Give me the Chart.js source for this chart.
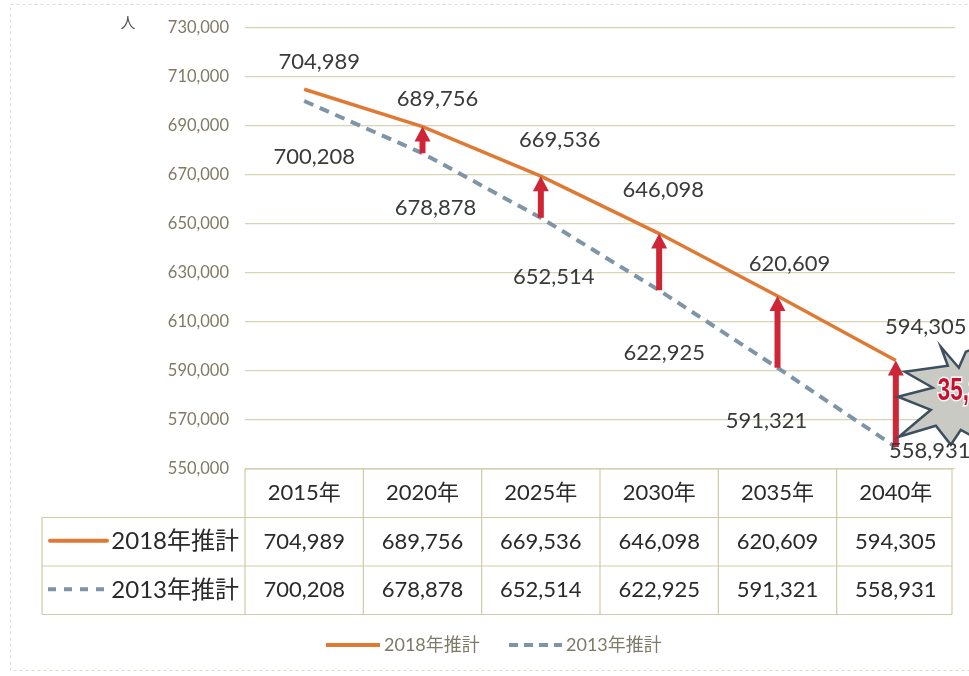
<!DOCTYPE html>
<html><head><meta charset="utf-8">
<script src="https://cdn.jsdelivr.net/npm/chart.js@4.4.1/dist/chart.umd.min.js"></script>
<style>html,body{margin:0;padding:0;background:#fff}#wrap{width:969px;height:676px;position:relative}</style>
</head><body><div id="wrap"><canvas id="c"></canvas></div>
<script>
const categories = ['2015年','2020年','2025年','2030年','2035年','2040年'];
const series2018 = [704989, 689756, 669536, 646098, 620609, 594305];
const series2013 = [700208, 678878, 652514, 622925, 591321, 558931];
const seriesNames = ['2018年推計','2013年推計'];
const yTicks = [550000,570000,590000,610000,630000,650000,670000,690000,710000,730000];
const unitLabel = '人';

const ORANGE = '#df7a34', BLUE = '#7d95a6', RED = '#cf2637', GRID = '#d8d4b4';
const NUMFONT = "Lato, 'Noto Sans CJK JP', sans-serif";
const fmt = v => v.toLocaleString('en-US');

// label offsets relative to points (styling)
const off2018 = [[15,-27],[15,-28],[19,-36],[4,-44],[12,-32],[30,-34]];
const off2013 = [[10,56],[13,55],[13,59],[5,63],[-11,53],[34,4]];
// starburst outline relative to the last category point / gap midpoint (styling)
const burst = [[45,-57],[52,-38],[9,-32],[37,-16],[2,-7],[35,6],[3,33],[40,22],[55,41],[65,26],[90,40],[90,-60],[70,-52],[63,-36]];

const overlay = {
  id:'overlay',
  beforeDraw(chart){
    const ctx = chart.ctx;
    ctx.save();
    ctx.fillStyle='#fff'; ctx.fillRect(0,0,chart.width,chart.height);
    ctx.strokeStyle='#dedccc'; ctx.lineWidth=1; ctx.setLineDash([3,3]);
    ctx.strokeRect(10.5,4.5,975,666);
    ctx.restore();
  },
  afterDatasetsDraw(chart){
    const ctx = chart.ctx, x = chart.scales.x, y = chart.scales.y;
    const ca = chart.chartArea;
    ctx.save();
    // unit
    ctx.fillStyle='#555'; ctx.font="15px 'Noto Sans CJK JP'"; ctx.textAlign='center'; ctx.textBaseline='middle';
    ctx.fillText(unitLabel,128,22);
    // arrows
    for(let i=1;i<categories.length;i++){
      const px = x.getPixelForValue(i);
      const yt = y.getPixelForValue(series2018[i]);
      const yb = y.getPixelForValue(series2013[i]);
      const hh = 15, hw = 8, sw = 3;
      ctx.fillStyle=RED;
      ctx.beginPath();
      ctx.moveTo(px,yt);
      ctx.lineTo(px+hw,yt+hh);
      ctx.lineTo(px+sw,yt+hh);
      ctx.lineTo(px+sw,yb);
      ctx.lineTo(px-sw,yb);
      ctx.lineTo(px-sw,yt+hh);
      ctx.lineTo(px-hw,yt+hh);
      ctx.closePath(); ctx.fill();
    }
    // starburst
    const n = categories.length-1;
    const bx = x.getPixelForValue(n);
    const by = (y.getPixelForValue(series2018[n])+y.getPixelForValue(series2013[n]))/2;
    ctx.beginPath();
    burst.forEach((p,k)=>{ k===0?ctx.moveTo(bx+p[0],by+p[1]):ctx.lineTo(bx+p[0],by+p[1]); });
    ctx.closePath();
    ctx.fillStyle='#cacac4'; ctx.fill();
    ctx.strokeStyle='#3e4f5f'; ctx.lineWidth=2.5; ctx.setLineDash([]); ctx.lineJoin='miter'; ctx.stroke();
    const diff = fmt(series2018[n]-series2013[n]);
    ctx.save();
    ctx.translate(bx+42, by-12);
    ctx.scale(0.72,1);
    ctx.fillStyle='#c8102e'; ctx.font="bold 31px 'Liberation Sans', Arial, sans-serif";
    ctx.textAlign='left'; ctx.textBaseline='middle';
    ctx.strokeStyle='#fff'; ctx.lineWidth=3; ctx.strokeText(diff,0,0);
    ctx.fillText(diff,0,0);
    ctx.restore();
    // data labels
    ctx.font='22px '+NUMFONT; ctx.fillStyle='#3a3a3a'; ctx.textAlign='center'; ctx.textBaseline='middle';
    series2018.forEach((v,i)=>{ ctx.fillText(fmt(v), x.getPixelForValue(i)+off2018[i][0], y.getPixelForValue(v)+off2018[i][1]); });
    series2013.forEach((v,i)=>{ ctx.fillText(fmt(v), x.getPixelForValue(i)+off2013[i][0], y.getPixelForValue(v)+off2013[i][1]); });

    // table
    const colW = x.getPixelForValue(1)-x.getPixelForValue(0);
    const tl = ca.left, tr = ca.right-3;
    const r0 = ca.bottom, rowH = 48.5;
    const r1 = r0+rowH, r2 = r1+rowH, r3 = r2+rowH;
    const legL = 42;
    ctx.strokeStyle='#cfcba8'; ctx.lineWidth=1.2; ctx.setLineDash([]);
    ctx.beginPath();
    ctx.moveTo(tl,r0); ctx.lineTo(tr,r0);
    ctx.moveTo(legL,r1); ctx.lineTo(tr,r1);
    ctx.moveTo(legL,r2); ctx.lineTo(tr,r2);
    ctx.moveTo(legL,r3); ctx.lineTo(tr,r3);
    ctx.moveTo(legL,r1); ctx.lineTo(legL,r3);
    for(let i=0;i<categories.length;i++){
      const b = x.getPixelForValue(i)-colW/2;
      ctx.moveTo(Math.max(b,tl),r0); ctx.lineTo(Math.max(b,tl),r3);
    }
    ctx.moveTo(tr,r0); ctx.lineTo(tr,r3);
    ctx.stroke();
    ctx.fillStyle='#2a2a2a'; ctx.font="22px "+NUMFONT;
    categories.forEach((c,i)=>{ ctx.fillText(c, x.getPixelForValue(i), (r0+r1)/2); });
    series2018.forEach((v,i)=>{ ctx.fillText(fmt(v), x.getPixelForValue(i), (r1+r2)/2); });
    series2013.forEach((v,i)=>{ ctx.fillText(fmt(v), x.getPixelForValue(i), (r2+r3)/2); });
    // row headers
    ctx.textAlign='right'; ctx.font="24px "+NUMFONT;
    ctx.fillText(seriesNames[0], tl-6, (r1+r2)/2);
    ctx.fillText(seriesNames[1], tl-6, (r2+r3)/2);
    ctx.lineCap='round';
    ctx.strokeStyle=ORANGE; ctx.lineWidth=4; ctx.beginPath(); ctx.moveTo(50,(r1+r2)/2-1); ctx.lineTo(107,(r1+r2)/2-1); ctx.stroke();
    ctx.strokeStyle=BLUE; ctx.lineWidth=4; ctx.setLineDash([8,8]); ctx.lineCap='butt'; ctx.beginPath(); ctx.moveTo(48,(r2+r3)/2-1); ctx.lineTo(107,(r2+r3)/2-1); ctx.stroke();
    ctx.setLineDash([]);
    // bottom legend
    const ly = 645;
    ctx.font="18px "+NUMFONT; ctx.textAlign='left'; ctx.fillStyle='#7d7a68';
    ctx.strokeStyle=ORANGE; ctx.lineWidth=4; ctx.beginPath(); ctx.moveTo(326,ly); ctx.lineTo(380,ly); ctx.stroke();
    ctx.fillText(seriesNames[0],384,ly);
    ctx.strokeStyle=BLUE; ctx.setLineDash([9,6]); ctx.beginPath(); ctx.moveTo(509,ly); ctx.lineTo(562,ly); ctx.stroke();
    ctx.setLineDash([]);
    ctx.fillText(seriesNames[1],566,ly);
    ctx.restore();
  }
};

new Chart(document.getElementById('c'), {
  type:'line',
  data:{ labels:categories, datasets:[
    {label:seriesNames[0], data:series2018, borderColor:ORANGE, borderWidth:3.5, pointRadius:0, tension:0},
    {label:seriesNames[1], data:series2013, borderColor:BLUE, borderWidth:4, borderDash:[10,7], pointRadius:0, tension:0}
  ]},
  options:{
    responsive:true, maintainAspectRatio:false, animation:false,
    layout:{padding:{left:0,right:14,top:28,bottom:207}},
    plugins:{legend:{display:false}, tooltip:{enabled:false}},
    scales:{
      x:{offset:true, ticks:{display:false}, grid:{display:false}, border:{display:false},
         afterFit(s){ s.height=0; }},
      y:{min:550000,max:730000,
         afterBuildTicks(s){ s.ticks = yTicks.map(v=>({value:v})); },
         afterFit(s){ s.width=245; },
         ticks:{padding:16, color:'#7f7a64', font:{family:NUMFONT,size:16.5}, callback:v=>fmt(v)},
         grid:{color:GRID, lineWidth:1.2, drawTicks:false},
         border:{display:false}}
    }
  },
  plugins:[overlay]
});
</script></body></html>
